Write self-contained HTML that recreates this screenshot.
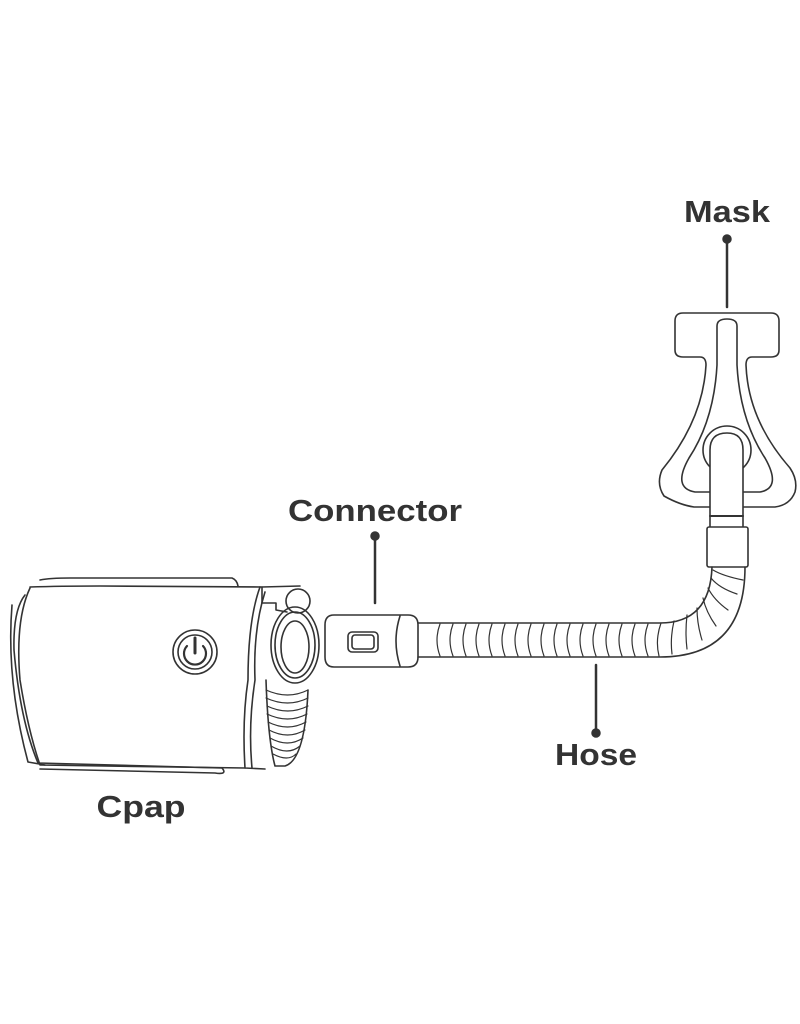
<!DOCTYPE html>
<html><head><meta charset="utf-8"><style>
html,body{margin:0;padding:0;background:#fff;}
svg{display:block}
text{font-family:"Liberation Sans",sans-serif;font-weight:bold;fill:#333;}
</style></head><body>
<svg width="800" height="1024" viewBox="0 0 800 1024" fill="none" stroke="#333" stroke-width="1.6" stroke-linejoin="round" stroke-linecap="round">
<!-- labels -->
<text x="727" y="222" font-size="31" text-anchor="middle" stroke="none" textLength="86" lengthAdjust="spacingAndGlyphs">Mask</text>
<text x="375" y="521" font-size="31" text-anchor="middle" stroke="none" textLength="174" lengthAdjust="spacingAndGlyphs">Connector</text>
<text x="596" y="765" font-size="31" text-anchor="middle" stroke="none" textLength="82" lengthAdjust="spacingAndGlyphs">Hose</text>
<text x="141" y="817" font-size="31" text-anchor="middle" stroke="none" textLength="89" lengthAdjust="spacingAndGlyphs">Cpap</text>
<g stroke="#333" stroke-width="2.5">
<line x1="727" y1="239" x2="727" y2="307"/><circle cx="727" cy="239" r="3.5" fill="#333"/>
<line x1="375" y1="536" x2="375" y2="603"/><circle cx="375" cy="536" r="3.5" fill="#333"/>
<line x1="596" y1="665" x2="596" y2="733"/><circle cx="596" cy="733" r="3.5" fill="#333"/>
</g>
<!-- mask -->
<path d="M683,313 L771,313 Q779,313 779,321 L779,350 Q779,357 771,357 L752,357 Q746,357 746,365 Q748,420 790,468 Q798,480 795,492 Q790,505 775,507 L694,507 Q680,505 664,496 Q656,484 662,470 Q703,420 706,365 Q706,357 700,357 L683,357 Q675,357 675,350 L675,321 Q675,313 683,313 Z"/>
<path d="M717,326 Q717,319 727,319 Q737,319 737,326 L737,365 Q740,420 765,458 Q782,488 760,492 L695,492 Q672,488 689,458 Q714,420 717,365 Z"/>
<circle cx="727" cy="450" r="24" fill="#fff"/>
<path d="M710,527 L710,450 Q710,433 727,433 Q743,433 743,450 L743,527" fill="#fff"/>
<line x1="710" y1="516" x2="743" y2="516" stroke-width="2"/>
<rect x="707" y="527" width="41" height="40" rx="2" fill="#fff"/>
<!-- hose -->
<path d="M418,623 L660,623 Q710,623 712,567"/>
<path d="M418,657 L660,657 Q745,657 745,567"/>
<g stroke-width="1.2">
<path d="M440,624 q-6,16 0,32 M453,624 q-6,16 0,32 M466,624 q-6,16 0,32 M479,624 q-6,16 0,32 M492,624 q-6,16 0,32 M505,624 q-6,16 0,32 M518,624 q-6,16 0,32 M531,624 q-6,16 0,32 M544,624 q-6,16 0,32 M557,624 q-6,16 0,32 M570,624 q-6,16 0,32 M583,624 q-6,16 0,32 M596,624 q-6,16 0,32 M609,624 q-6,16 0,32 M622,624 q-6,16 0,32 M635,624 q-6,16 0,32 M648,624 q-6,16 0,32 M661,623 q-6,17 -2,33 M674,621 q-4,17 -2,33 M687,615 q-2,18 -0,34 M697,608 q0,16 5,32 M703,598 q3,14 13,28 M708,588 q6,12 20,22 M711,578 q8,10 26,16 M713,570 q10,6 30,10"/>
</g>
<!-- connector -->
<path d="M334,615 L408,615 Q418,615 418,625 L418,657 Q418,667 408,667 L334,667 Q325,667 325,657 L325,625 Q325,615 334,615 Z"/>
<path d="M400,616 Q392,641 400,666"/>
<rect x="348" y="632" width="30" height="20" rx="4"/>
<rect x="352" y="635" width="22" height="14" rx="3"/>
<!-- cpap -->
<path d="M40,580 Q50,578 70,578 L232,578 Q237,580 238,586"/>
<path d="M12,605 Q6,680 28,762 L45,765"/>
<path d="M30,587 Q60,586 100,586 L262,587 L300,586"/>
<path d="M25,595 Q13,610 14,650 Q20,720 38,763 L222,768 Q228,775 215,773 L40,769"/>
<path d="M30,588 Q15,620 20,680 Q28,730 40,765 L245,768"/>
<path d="M260,587 Q248,620 248,680 Q242,720 245,768 L265,769"/>
<path d="M265,592 Q253,630 255,680 Q248,725 252,768"/>
<path d="M262,603 L276,603 L276,610 L287,612"/>
<path d="M262,603 L262,587"/>
<circle cx="298" cy="601" r="12"/>
<ellipse cx="295" cy="645" rx="24" ry="38"/>
<ellipse cx="295" cy="645" rx="20" ry="33"/>
<ellipse cx="295" cy="647" rx="14" ry="26"/>
<path d="M266,680 Q268,740 275,766 L285,766 Q305,760 308,690"/>
<g stroke-width="1.2">
<path d="M266,690 Q288,700 308,690 M266,698 Q288,708 308,698 M267,706 Q288,716 308,706 M267,714 Q288,724 307,714 M268,722 Q288,732 306,722 M269,730 Q288,740 305,730 M270,738 Q288,748 303,738 M271,746 Q288,756 300,746 M273,754 Q288,762 296,754"/>
</g>
<circle cx="195" cy="652" r="22"/>
<circle cx="195" cy="652" r="17"/>
<path d="M187,646 A11,11 0 1 0 203,646" stroke-width="2.2"/>
<line x1="195" y1="638" x2="195" y2="653" stroke-width="3"/>
</svg>
</body></html>
